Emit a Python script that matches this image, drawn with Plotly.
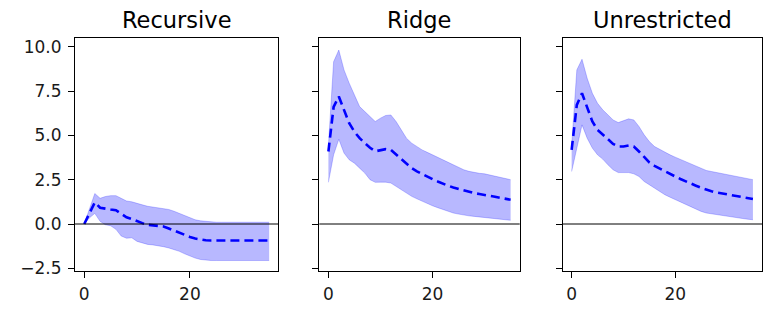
import plotly.graph_objects as go

horizon = list(range(36))
panel_titles = ["Recursive", "Ridge", "Unrestricted"]

recursive_mid = [0.0, 0.6, 1.22, 0.92, 0.85, 0.82, 0.78, 0.6, 0.38, 0.28, 0.15, 0.05, -0.04, -0.08, -0.1, -0.14,
                 -0.25, -0.38, -0.5, -0.62, -0.73, -0.82, -0.88, -0.92, -0.93, -0.93, -0.93, -0.93, -0.93, -0.93,
                 -0.93, -0.93, -0.93, -0.93, -0.93, -0.93]
recursive_hi = [0.0, 0.85, 1.72, 1.45, 1.55, 1.6, 1.6, 1.45, 1.3, 1.25, 1.15, 1.08, 1.0, 0.96, 0.92, 0.9,
                0.82, 0.72, 0.6, 0.47, 0.35, 0.24, 0.18, 0.14, 0.12, 0.1, 0.1, 0.1, 0.1, 0.1,
                0.1, 0.1, 0.1, 0.1, 0.1, 0.1]
recursive_lo = [0.0, 0.35, 0.6, 0.15, -0.04, -0.1, -0.3, -0.68, -0.8, -0.78, -0.98, -1.08, -1.15, -1.18, -1.22, -1.28,
                -1.35, -1.44, -1.54, -1.68, -1.82, -1.92, -2.0, -2.04, -2.06, -2.06, -2.06, -2.06, -2.06, -2.06,
                -2.06, -2.06, -2.06, -2.06, -2.06, -2.06]

ridge_mid = [4.09, 6.6, 7.19, 6.44, 5.68, 5.2, 4.84, 4.56, 4.3, 4.1, 4.15, 4.22, 4.18, 3.92, 3.62, 3.36,
             3.15, 2.97, 2.81, 2.67, 2.53, 2.4, 2.27, 2.16, 2.06, 1.97, 1.89, 1.81, 1.74, 1.69,
             1.65, 1.6, 1.54, 1.48, 1.42, 1.37]
ridge_hi = [4.4, 9.15, 9.81, 8.69, 7.94, 7.28, 6.62, 6.34, 6.06, 5.78, 5.97, 6.12, 6.15, 5.78, 5.31, 4.84,
            4.56, 4.36, 4.18, 4.04, 3.9, 3.76, 3.62, 3.48, 3.34, 3.2, 3.06, 2.97, 2.9, 2.86,
            2.83, 2.76, 2.68, 2.61, 2.55, 2.5]
ridge_lo = [2.35, 3.9, 4.78, 4.0, 3.62, 3.43, 3.15, 2.87, 2.5, 2.35, 2.36, 2.36, 2.31, 2.12, 1.93, 1.74,
            1.56, 1.42, 1.28, 1.15, 1.03, 0.92, 0.81, 0.71, 0.62, 0.56, 0.5, 0.46, 0.43, 0.4,
            0.38, 0.34, 0.3, 0.27, 0.24, 0.21]

unres_mid = [4.18, 6.72, 7.37, 6.53, 5.78, 5.31, 5.03, 4.75, 4.52, 4.37, 4.37, 4.43, 4.37, 4.09, 3.77, 3.47,
             3.28, 3.12, 2.96, 2.82, 2.68, 2.54, 2.4, 2.28, 2.16, 2.04, 1.93, 1.85, 1.78, 1.73,
             1.69, 1.64, 1.59, 1.52, 1.46, 1.41]
unres_hi = [4.4, 8.69, 9.29, 8.22, 7.37, 6.81, 6.44, 6.15, 5.87, 5.72, 5.83, 5.93, 5.87, 5.5, 5.03, 4.65,
            4.37, 4.2, 4.03, 3.9, 3.77, 3.65, 3.53, 3.39, 3.25, 3.13, 3.02, 2.96, 2.9, 2.85,
            2.81, 2.75, 2.68, 2.61, 2.55, 2.5]
unres_lo = [2.96, 4.37, 5.59, 4.84, 4.28, 3.9, 3.66, 3.34, 3.06, 2.9, 2.9, 2.9, 2.83, 2.68, 2.4, 2.2,
            2.03, 1.84, 1.65, 1.51, 1.37, 1.23, 1.09, 0.95, 0.81, 0.71, 0.62, 0.57, 0.53, 0.48,
            0.43, 0.4, 0.36, 0.31, 0.27, 0.24]

x_ticks = [0, 20]
y_ticks = [-2.5, 0.0, 2.5, 5.0, 7.5, 10.0]

panels = [
    (recursive_mid, recursive_hi, recursive_lo),
    (ridge_mid, ridge_hi, ridge_lo),
    (unres_mid, unres_hi, unres_lo),
]

FONT = "DejaVu Sans"
BAND = "rgba(0,0,255,0.28)"
EDGE = "rgba(0,0,255,0.22)"

# page body has an 8px default margin; compensate so the plot lands at window pixels
OFF = 8
W, H = 776 - OFF, 317 - OFF
ML, MT, MB = 73 - OFF, 38 - OFF, 317 - 271
MR = 776 - 762
pw = W - ML - MR
px_domains = [(73, 277), (318, 519), (562, 762)]
domains = [((a - OFF - ML) / pw, (b - OFF - ML) / pw) for a, b in px_domains]

fig = go.Figure()
for i, (mid, hi, lo) in enumerate(panels):
    ax = "" if i == 0 else str(i + 1)
    xa, ya = "x" + ax, "y" + ax
    fig.add_trace(go.Scatter(x=horizon, y=hi, mode="lines", line=dict(color=EDGE, width=1),
                             xaxis=xa, yaxis=ya, showlegend=False, hoverinfo="skip"))
    fig.add_trace(go.Scatter(x=horizon, y=lo, mode="lines", line=dict(color=EDGE, width=1),
                             fill="tonexty", fillcolor=BAND,
                             xaxis=xa, yaxis=ya, showlegend=False, hoverinfo="skip"))
    fig.add_trace(go.Scatter(x=horizon, y=mid, mode="lines",
                             line=dict(color="#0000ff", width=2.6, dash="9px,5px"),
                             xaxis=xa, yaxis=ya, showlegend=False))
    fig.add_shape(type="line", xref=xa + " domain", yref=ya, x0=0, x1=1, y0=0, y1=0,
                  line=dict(color="black", width=1), layer="above")
    fig.add_annotation(text=panel_titles[i], xref=xa + " domain", yref=ya + " domain",
                       x=0.5, y=1, xanchor="center", yanchor="bottom", yshift=3,
                       showarrow=False, font=dict(family=FONT, size=22.5, color="black"))

    xkw = dict(domain=list(domains[i]), range=[-1.75, 36.75], tickmode="array", tickvals=x_ticks,
               ticks="outside", ticklen=6, tickwidth=1, tickcolor="black",
               showline=True, linecolor="black", linewidth=1, mirror=True,
               showgrid=False, zeroline=False, ticklabelstandoff=2,
               tickfont=dict(family=FONT, size=17, color="#1a1a1a"), anchor=ya)
    ykw = dict(domain=[0, 1], range=[-2.65, 10.49], tickmode="array", tickvals=y_ticks,
               ticktext=[f"{v:.1f}".replace("-", "\u2212") for v in y_ticks],
               ticks="outside", ticklen=6, tickwidth=1, tickcolor="black",
               showline=True, linecolor="black", linewidth=1, mirror=True,
               showgrid=False, zeroline=False, showticklabels=(i == 0), ticklabelstandoff=3,
               tickfont=dict(family=FONT, size=17, color="#1a1a1a"), anchor=xa)
    fig.update_layout(**{"xaxis" + ax: xkw, "yaxis" + ax: ykw})

fig.update_layout(width=W, height=H, margin=dict(l=ML, r=MR, t=MT, b=MB),
                  paper_bgcolor="white", plot_bgcolor="white", showlegend=False)
fig.write_html("out.html")
